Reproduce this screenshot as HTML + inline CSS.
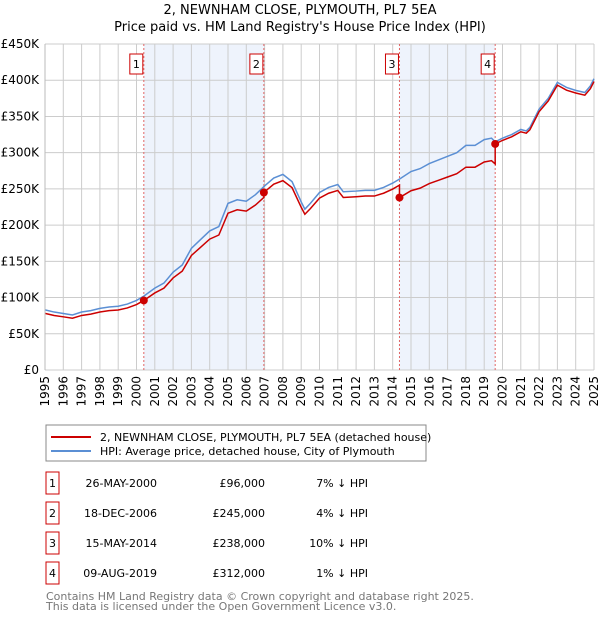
<!DOCTYPE html>
<html><head><meta charset="utf-8"><style>
body{margin:0;background:#fff;font-family:"DejaVu Sans","Liberation Sans",sans-serif;}
svg text{font-family:"DejaVu Sans","Liberation Sans",sans-serif;}
</style></head><body>
<svg id="c" width="600" height="620" xmlns="http://www.w3.org/2000/svg">
<text x="300" y="14" text-anchor="middle" font-size="13">2, NEWNHAM CLOSE, PLYMOUTH, PL7 5EA</text>
<text x="300" y="31" text-anchor="middle" font-size="13">Price paid vs. HM Land Registry's House Price Index (HPI)</text>
<g id="plot"></g>
<g>
<rect x="46" y="425" width="380" height="36" fill="#fff" stroke="#888"/>
<line x1="51" y1="437" x2="91" y2="437" stroke="#cc0000" stroke-width="2"/>
<text x="100" y="441" font-size="11">2, NEWNHAM CLOSE, PLYMOUTH, PL7 5EA (detached house)</text>
<line x1="51" y1="451" x2="91" y2="451" stroke="#5b8fd4" stroke-width="2"/>
<text x="100" y="455" font-size="11">HPI: Average price, detached house, City of Plymouth</text>
</g>
<g id="table" font-size="11"></g>
<text x="46" y="600" font-size="11" fill="#777">Contains HM Land Registry data © Crown copyright and database right 2025.</text>
<text x="46" y="610" font-size="11" fill="#777">This data is licensed under the Open Government Licence v3.0.</text>
</svg>
<script>
const hpiYears=[1995,1995.5,1996,1996.5,1997,1997.5,1998,1998.5,1999,1999.5,2000,2000.4,2001,2001.5,2002,2002.5,2003,2003.5,2004,2004.5,2005,2005.5,2006,2006.5,2007,2007.5,2008,2008.5,2009,2009.2,2009.5,2010,2010.5,2011,2011.3,2012,2012.5,2013,2013.5,2014,2014.4,2015,2015.5,2016,2016.5,2017,2017.5,2018,2018.5,2019,2019.4,2019.6,2020,2020.5,2021,2021.3,2021.5,2022,2022.5,2023,2023.5,2024,2024.5,2024.8,2025];
const hpiValues=[83,80,78,76,80,82,85,87,88,91,96,102,113,120,135,145,168,180,192,198,230,235,233,242,254,265,270,260,232,222,230,245,252,256,246,247,248,248,252,258,264,274,278,285,290,295,300,310,310,318,320,315,320,325,332,330,335,360,375,397,390,386,383,392,402];
const saleLabels=["1","2","3","4"];
const saleYears=[2000.4,2006.96,2014.37,2019.6];
const saleDates=["26-MAY-2000","18-DEC-2006","15-MAY-2014","09-AUG-2019"];
const salePrices=[96,245,238,312];
const salePriceText=["£96,000","£245,000","£238,000","£312,000"];
const saleDiffText=["7% ↓ HPI","4% ↓ HPI","10% ↓ HPI","1% ↓ HPI"];
const yTicks=[0,50,100,150,200,250,300,350,400,450];
const yTickLabels=["£0","£50K","£100K","£150K","£200K","£250K","£300K","£350K","£400K","£450K"];
const xTicks=[];for(let y=1995;y<=2025;y++)xTicks.push(y);

const L=45,R=594,T=44,B=370;
const X=v=>L+(v-1995)/30*(R-L);
const Y=v=>B-v/450*(B-T);
const NS="http://www.w3.org/2000/svg";
const plot=document.getElementById('plot');
function mk(t,a,p){const e=document.createElementNS(NS,t);for(const k in a)e.setAttribute(k,a[k]);(p||plot).appendChild(e);return e;}
function hpiAt(t){for(let i=1;i<hpiYears.length;i++){if(t<=hpiYears[i]){const f=(t-hpiYears[i-1])/(hpiYears[i]-hpiYears[i-1]);return hpiValues[i-1]+f*(hpiValues[i]-hpiValues[i-1]);}}return hpiValues[hpiValues.length-1];}
// shading
for(let i=0;i<saleYears.length;i+=2){
 const r=mk('rect',{x:X(saleYears[i]),y:T,width:X(saleYears[i+1])-X(saleYears[i]),height:B-T,fill:'#eef3fc'});
 
 
}
xTicks.forEach(v=>{const l=mk('line',{x1:X(v),x2:X(v),y1:T,y2:B,stroke:'#cccccc'});
 
 const t=mk('text',{x:0,y:0,'font-size':12,'text-anchor':'end',transform:`translate(${X(v)+4},${B+6}) rotate(-90)`});t.textContent=v;
 });
yTicks.forEach((v,i)=>{const l=mk('line',{x1:L,x2:R,y1:Y(v),y2:Y(v),stroke:'#cccccc'});
 
 const t=mk('text',{x:L-6,y:Y(v)+4,'font-size':12,'text-anchor':'end'});t.textContent=yTickLabels[i];
 });
// sale vertical lines
saleYears.forEach((s,i)=>{const l=mk('line',{x1:X(s),x2:X(s),y1:T,y2:B,stroke:'#e06666','stroke-dasharray':'2,2'});
 
 const r=mk('rect',{x:X(s)-14,y:54,width:13,height:20,fill:'#fff',stroke:'#cc0000'});
 
 const t=mk('text',{x:X(s)-7.5,y:68,'font-size':11,'text-anchor':'middle'});t.textContent=saleLabels[i];
 });
// HPI line
const hp=mk('polyline',{points:hpiYears.map((t,i)=>X(t)+','+Y(hpiValues[i])).join(' '),fill:'none',stroke:'#5b8fd4','stroke-width':1.5});

// red line: HPI scaled to pass through each sale price
const ratios=saleYears.map((s,i)=>salePrices[i]/hpiAt(s));
function ratioAt(t){let k=0;for(let i=0;i<saleYears.length;i++)if(t>=saleYears[i])k=i;return ratios[k];}
const pts=[];
hpiYears.forEach((t,i)=>{
 saleYears.forEach((s,j)=>{if(i>0&&s>hpiYears[i-1]&&s<=t){const h=hpiAt(s);if(j>0)pts.push([s,h*ratios[j-1]]);pts.push([s,h*ratios[j]]);}});
 pts.push([t,hpiValues[i]*ratioAt(t)]);
});
const pl=mk('polyline',{points:pts.map(p=>X(p[0])+','+Y(p[1])).join(' '),fill:'none',stroke:'#cc0000','stroke-width':1.5});

saleYears.forEach((s,i)=>{const c=mk('circle',{cx:X(s),cy:Y(salePrices[i]),r:4,fill:'#cc0000'});
 });
// table
const tb=document.getElementById('table');
saleYears.forEach((s,i)=>{const y=483+i*30;
 const r=mk('rect',{x:46,y:y-11,width:13,height:22,fill:'#fff',stroke:'#cc0000'},tb);
 
 const cells=[[52.5,saleLabels[i],'middle'],[157,saleDates[i],'end'],[265,salePriceText[i],'end'],[368,saleDiffText[i],'end']];
 cells.forEach(c=>{const t=mk('text',{x:c[0],y:y+4,'text-anchor':c[2]},tb);t.textContent=c[1];
  });
});
// axis lines
const ax=mk('line',{x1:L,x2:L,y1:T,y2:B,stroke:'#bbb'});
</script>
</body></html>
